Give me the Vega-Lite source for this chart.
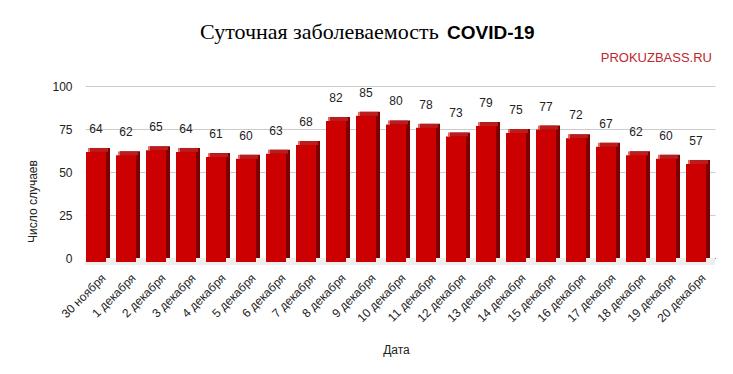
{
  "$schema": "https://vega.github.io/schema/vega-lite/v6.json",
  "width": 630,
  "height": 172,
  "autosize": {"type": "none"},
  "padding": {"left": 85, "top": 86, "right": 18, "bottom": 116},
  "background": "white",
  "config": {"view": {"stroke": null}, "font": "Liberation Sans"},
  "title": {
    "text": "Суточная заболеваемость",
    "font": "Liberation Serif",
    "fontSize": 22,
    "fontWeight": "normal",
    "color": "#000000",
    "anchor": "start",
    "frame": "group",
    "baseline": "alphabetic",
    "dx": 115,
    "offset": -37
  },
  "data": {
    "values": [
      {"date": "30 ноября", "value": 64},
      {"date": "1 декабря", "value": 62},
      {"date": "2 декабря", "value": 65},
      {"date": "3 декабря", "value": 64},
      {"date": "4 декабря", "value": 61},
      {"date": "5 декабря", "value": 60},
      {"date": "6 декабря", "value": 63},
      {"date": "7 декабря", "value": 68},
      {"date": "8 декабря", "value": 82},
      {"date": "9 декабря", "value": 85},
      {"date": "10 декабря", "value": 80},
      {"date": "11 декабря", "value": 78},
      {"date": "12 декабря", "value": 73},
      {"date": "13 декабря", "value": 79},
      {"date": "14 декабря", "value": 75},
      {"date": "15 декабря", "value": 77},
      {"date": "16 декабря", "value": 72},
      {"date": "17 декабря", "value": 67},
      {"date": "18 декабря", "value": 62},
      {"date": "19 декабря", "value": 60},
      {"date": "20 декабря", "value": 57}
    ]
  },
  "encoding": {
    "x": {
      "field": "date",
      "type": "nominal",
      "sort": null,
      "scale": {"paddingInner": 0.2, "paddingOuter": 0.1},
      "axis": {
        "title": "Дата",
        "titleFontSize": 12,
        "titleFontWeight": "normal",
        "titleColor": "#222222",
        "titleX": 311,
        "titleY": 91,
        "titleBaseline": "middle",
        "labelAngle": -45,
        "labelFontSize": 12,
        "labelColor": "#222222",
        "labelPadding": 14,
        "ticks": false,
        "domainColor": "#333333",
        "domainWidth": 1
      }
    },
    "y": {
      "field": "value",
      "type": "quantitative",
      "scale": {"domain": [0, 100]},
      "axis": {
        "values": [0, 25, 50, 75, 100],
        "title": "Число случаев",
        "titleFontSize": 12,
        "titleFontWeight": "normal",
        "titleColor": "#222222",
        "titleX": -53,
        "titleY": 115,
        "titleAngle": -90,
        "titleAlign": "center",
        "titleBaseline": "middle",
        "labelFontSize": 12,
        "labelColor": "#222222",
        "labelPadding": 13,
        "ticks": false,
        "domain": false,
        "gridColor": "#cccccc"
      }
    }
  },
  "layer": [
    {
      "mark": {"type": "bar", "width": 30, "color": "#eeeeee", "y2Offset": 7},
      "encoding": {
        "y": {"datum": 0, "type": "quantitative"},
        "y2": {"datum": 0}
      }
    },
    {
      "mark": {"type": "bar", "width": 20, "color": "#7f0000"}
    },
    {
      "mark": {"type": "bar", "width": 20, "color": "#cc0000", "xOffset": -4, "yOffset": 4, "y2Offset": 4}
    },
    {
      "mark": {"type": "tick", "orient": "horizontal", "size": 20, "thickness": 4, "color": "#d42a2a", "xOffset": -2, "yOffset": 2}
    },
    {
      "mark": {"type": "text", "fontSize": 12, "color": "#222222", "xOffset": -4, "dy": -19, "baseline": "middle"},
      "encoding": {"text": {"field": "value", "type": "quantitative"}}
    },
    {
      "data": {"values": [{"label": "COVID-19", "date": "12 декабря", "value": 100}]},
      "mark": {"type": "text", "font": "Liberation Sans", "fontSize": 19, "fontWeight": "bold", "color": "#000000", "align": "left", "baseline": "alphabetic", "dx": -13, "dy": -47},
      "encoding": {"text": {"field": "label"}}
    },
    {
      "data": {"values": [{"label": "PROKUZBASS.RU", "date": "20 декабря", "value": 100}]},
      "mark": {"type": "text", "font": "Liberation Sans", "fontSize": 13, "color": "#c0262d", "align": "right", "baseline": "middle", "dx": 12, "dy": -28},
      "encoding": {"text": {"field": "label"}}
    }
  ]
}
